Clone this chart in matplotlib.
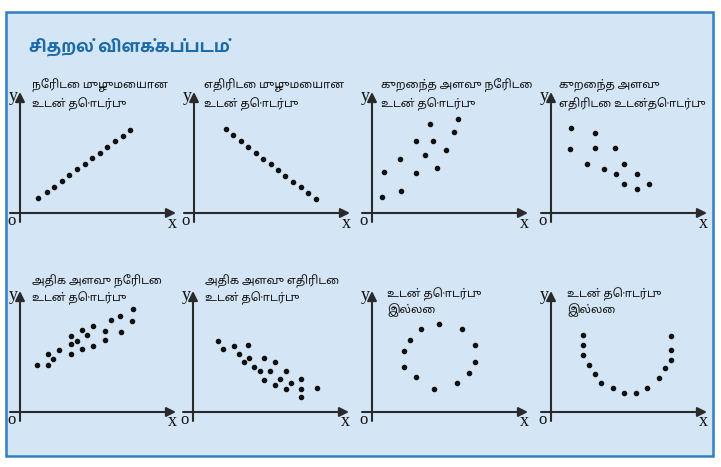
import matplotlib
matplotlib.use("Agg")
import os
import matplotlib.pyplot as plt
from matplotlib import font_manager
from matplotlib.patches import Rectangle
from matplotlib.ft2font import FT2Font

# ---------------- data ----------------
title = "சிதறல் விளக்கப்படம்"

labels = [
    ["நேரிடை முழுமையான", "உடன் தொடர்பு"],
    ["எதிரிடை முழுமையான", "உடன் தொடர்பு"],
    ["குறைந்த அளவு நேரிடை", "உடன் தொடர்பு"],
    ["குறைந்த அளவு", "எதிரிடை உடன்தொடர்பு"],
    ["அதிக அளவு நேரிடை", "உடன் தொடர்பு"],
    ["அதிக அளவு எதிரிடை", "உடன் தொடர்பு"],
    ["உடன் தொடர்பு", "இல்லை"],
    ["உடன் தொடர்பு", "இல்லை"],
]

p1_x = [18, 27, 34, 42, 49, 57, 65, 72, 80, 87, 95, 103, 110]
p1_y = [15, 21, 26, 32, 38, 44, 49, 55, 60, 66, 72, 77, 83]

p2_x = [32, 39, 47, 54, 62, 69, 77, 84, 91, 99, 107, 114, 122]
p2_y = [84, 78, 72, 66, 60, 54, 49, 43, 37, 31, 26, 20, 14]

p3_x = [86, 58, 82, 44, 61, 53, 74, 28, 12, 44, 65, 29, 10]
p3_y = [94, 89, 81, 72, 72, 58, 63, 54, 41, 40, 45, 22, 16]

p4_x = [20, 44, 19, 44, 64, 36, 53, 73, 65, 86, 73, 86, 98]
p4_y = [85, 80, 64, 65, 65, 49, 44, 49, 39, 39, 29, 24, 29]

p5_x = [17, 28, 28, 33, 39, 51, 51, 51, 57, 62, 62, 67, 73, 73, 85, 85, 91, 100, 101, 112, 113]
p5_y = [47, 47, 58, 53, 62, 58, 68, 76, 71, 82, 63, 77, 86, 66, 81, 72, 92, 96, 80, 91, 103]

p6_x = [25, 30, 41, 55, 46, 56, 51, 61, 71, 82, 67, 77, 93, 71, 87, 82, 98, 108, 93, 108, 108, 124]
p6_y = [71, 63, 66, 67, 58, 54, 50, 45, 54, 50, 41, 41, 41, 32, 33, 27, 29, 33, 23, 23, 15, 24]

p7_x = [67, 49, 90, 38, 103, 32, 103, 32, 97, 44, 85, 62]
p7_y = [88, 83, 83, 72, 67, 61, 50, 45, 39, 35, 29, 23]

p8_x = [32, 32, 32, 38, 44, 50, 62, 73, 85, 96, 108, 114, 120, 120, 120]
p8_y = [77, 67, 57, 47, 38, 29, 24, 19, 19, 24, 34, 44, 52, 62, 76]

series = [(p1_x, p1_y), (p2_x, p2_y), (p3_x, p3_y), (p4_x, p4_y),
          (p5_x, p5_y), (p6_x, p6_y), (p7_x, p7_y), (p8_x, p8_y)]

# ---------------- Tamil fonts ----------------
all_fonts = sorted(font_manager.findSystemFonts())

def has_tamil(path):
    try:
        return 0x0BA4 in FT2Font(path).get_charmap()
    except Exception:
        return False

def pick(prefixes):
    for pre in prefixes:
        for f in all_fonts:
            if os.path.basename(f).startswith(pre) and has_tamil(f):
                return f
    for f in all_fonts:
        if has_tamil(f):
            return f
    return None

body_path = pick(["NotoSansTamil[", "NotoSansTamil", "FreeSans"])
title_path = pick(["HindMadurai-Bold", "HindMadurai-SemiBold", "MuktaMalar-Bold", "NotoSansTamil["])

def fprop(path, size):
    if path:
        return font_manager.FontProperties(fname=path, size=size)
    return font_manager.FontProperties(family="DejaVu Sans", size=size)

# ---------------- layout ----------------
W, H = 721, 467
fig = plt.figure(figsize=(W / 100, H / 100), dpi=100)
fig.patch.set_facecolor("white")

def fx(px):
    return px / W

def fy(py):
    return 1 - py / H

bg = fig.add_axes([0, 0, 1, 1])
bg.set_xlim(0, W)
bg.set_ylim(H, 0)
bg.axis("off")
bg.add_patch(Rectangle((6, 12), 707, 444, facecolor="#d4e6f6",
                       edgecolor="#2f7fc0", linewidth=1.8))
bg.text(29, 48, title, fontproperties=fprop(title_path, 12.5), color="#1d6aa8",
        va="center", ha="left")

origins = [(20, 213), (194, 213), (372, 213), (551, 213),
           (20, 412), (193, 412), (372, 412), (551, 412)]
label_pos = [(32, 85, 104), (204, 85, 104), (381, 85, 104), (559, 85, 104),
             (32, 281, 298), (205, 281, 298), (387, 294, 310), (567, 294, 310)]

axc = "#2a2a2a"
serif = ["Liberation Serif", "DejaVu Serif"]
for i, ((ox, oy), (xs, ys)) in enumerate(zip(origins, series)):
    left, right, bot, top = -16, 160, -14, 126
    ax = fig.add_axes([fx(ox + left), fy(oy - bot), (right - left) / W, (top - bot) / H])
    ax.set_xlim(left, right)
    ax.set_ylim(bot, top)
    ax.axis("off")
    ax.patch.set_alpha(0)
    ax.annotate("", xy=(156, 0), xytext=(-10, 0),
                arrowprops=dict(arrowstyle="-|>", color=axc, lw=1.5,
                                mutation_scale=14, shrinkA=0, shrinkB=0))
    ax.annotate("", xy=(0, 121), xytext=(0, -9),
                arrowprops=dict(arrowstyle="-|>", color=axc, lw=1.5,
                                mutation_scale=14, shrinkA=0, shrinkB=0))
    ax.scatter(xs, ys, s=9, color="#111111", zorder=3)
    ax.text(-8, -8, "o", family=serif, fontsize=12, ha="center", va="center", color="#111")
    ax.text(152, -10, "x", family=serif, fontsize=13, ha="center", va="center", color="#111")
    ax.text(-7, 117, "y", family=serif, fontsize=13, ha="center", va="center", color="#111")
    lx, ly1, ly2 = label_pos[i]
    bg.text(lx, ly1, labels[i][0], fontproperties=fprop(body_path, 8.1),
            va="center", ha="left", color="#111")
    bg.text(lx, ly2, labels[i][1], fontproperties=fprop(body_path, 8.1),
            va="center", ha="left", color="#111")

fig.savefig("out.png", dpi=100, facecolor="white")
